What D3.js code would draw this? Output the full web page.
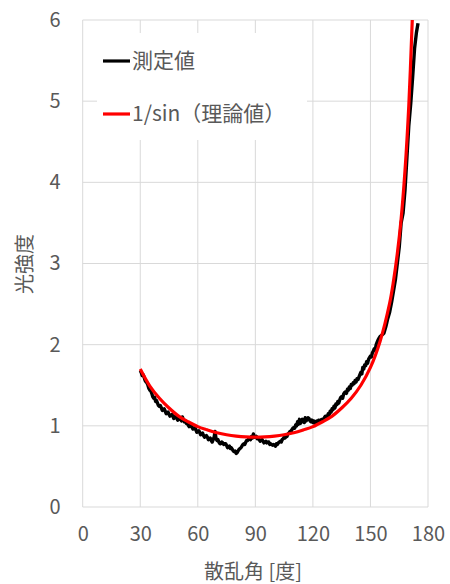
<!DOCTYPE html>
<html><head><meta charset="utf-8">
<script src="https://cdn.jsdelivr.net/npm/d3@7"></script>
<style>body{margin:0;background:#fff;} text{font-family:"Noto Sans CJK JP","Noto Sans",sans-serif;fill:#595959;}</style>
</head><body><svg id="c" width="450" height="584"></svg>
<script>
// x-axis ticks (degrees) and y-axis ticks
const xTicks = [0, 30, 60, 90, 120, 150, 180];
const yTicks = [0, 1, 2, 3, 4, 5, 6];
// measured (測定値): angle in degrees, intensity
const measAngle = [30,30.5,31,31.5,32,32.5,33,33.5,34,34.5,35,35.5,36,36.5,37,37.5,38,38.5,39,39.5,40,40.5,41,41.5,42,42.5,43,43.5,44,44.5,45,45.5,46,46.5,47,47.5,48,48.5,49,49.5,50,50.5,51,51.5,52,52.5,53,53.5,54,54.5,55,55.5,56,56.5,57,57.5,58,58.5,59,59.5,60,60.5,61,61.5,62,62.5,63,63.5,64,64.5,65,65.5,66,66.5,67,67.5,68,68.5,69,69.5,70,70.5,71,71.5,72,72.5,73,73.5,74,74.5,75,75.5,76,76.5,77,77.5,78,78.5,79,79.5,80,80.5,81,81.5,82,82.5,83,83.5,84,84.5,85,85.5,86,86.5,87,87.5,88,88.5,89,89.5,90,90.5,91,91.5,92,92.5,93,93.5,94,94.5,95,95.5,96,96.5,97,97.5,98,98.5,99,99.5,100,100.5,101,101.5,102,102.5,103,103.5,104,104.5,105,105.5,106,106.5,107,107.5,108,108.5,109,109.5,110,110.5,111,111.5,112,112.5,113,113.5,114,114.5,115,115.5,116,116.5,117,117.5,118,118.5,119,119.5,120,120.5,121,121.5,122,122.5,123,123.5,124,124.5,125,125.5,126,126.5,127,127.5,128,128.5,129,129.5,130,130.5,131,131.5,132,132.5,133,133.5,134,134.5,135,135.5,136,136.5,137,137.5,138,138.5,139,139.5,140,140.5,141,141.5,142,142.5,143,143.5,144,144.5,145,145.5,146,146.5,147,147.5,148,148.5,149,149.5,150,150.5,151,151.5,152,152.5,153,153.5,154,154.5,155,155.5,156,156.5,157,157.5,158,158.5,159,159.5,160,161,162,163,164,165,166,167,168,169,170,171,172,173,174,174.8];
const measValue = [1.68,1.66,1.62,1.63,1.60,1.56,1.54,1.53,1.50,1.46,1.44,1.43,1.40,1.36,1.34,1.35,1.30,1.31,1.28,1.25,1.24,1.25,1.22,1.19,1.20,1.21,1.18,1.15,1.16,1.17,1.14,1.12,1.13,1.14,1.12,1.09,1.10,1.12,1.10,1.07,1.08,1.10,1.09,1.06,1.11,1.07,1.05,1.06,1.03,1.04,1.01,0.99,1.00,1.01,0.98,0.96,0.97,0.98,0.95,0.92,0.93,0.94,0.92,0.89,0.90,0.91,0.88,0.86,0.87,0.88,0.86,0.83,0.84,0.85,0.82,0.80,0.83,0.86,0.93,0.84,0.82,0.83,0.80,0.78,0.78,0.80,0.79,0.77,0.78,0.78,0.76,0.73,0.74,0.75,0.72,0.73,0.71,0.69,0.68,0.69,0.66,0.67,0.69,0.71,0.72,0.73,0.75,0.77,0.78,0.77,0.80,0.82,0.82,0.84,0.84,0.83,0.87,0.85,0.90,0.86,0.86,0.87,0.84,0.85,0.83,0.81,0.82,0.83,0.81,0.79,0.80,0.81,0.79,0.80,0.80,0.77,0.78,0.77,0.76,0.77,0.76,0.75,0.78,0.77,0.79,0.80,0.81,0.80,0.83,0.84,0.86,0.85,0.88,0.87,0.90,0.91,0.93,0.92,0.95,0.97,0.98,0.97,1.01,1.00,1.05,1.02,1.08,1.03,1.05,1.08,1.07,1.04,1.10,1.06,1.08,1.10,1.09,1.06,1.05,1.07,1.04,1.06,1.03,1.05,1.06,1.04,1.07,1.05,1.06,1.08,1.08,1.07,1.10,1.12,1.12,1.11,1.15,1.14,1.18,1.17,1.21,1.20,1.24,1.22,1.27,1.26,1.30,1.28,1.32,1.35,1.36,1.34,1.39,1.41,1.42,1.40,1.45,1.44,1.48,1.46,1.51,1.50,1.53,1.52,1.56,1.54,1.58,1.57,1.60,1.63,1.66,1.64,1.72,1.70,1.75,1.74,1.79,1.77,1.82,1.84,1.86,1.85,1.90,1.92,1.95,1.94,2.00,2.03,2.06,2.08,2.10,2.11,2.12,2.13,2.14,2.18,2.22,2.27,2.32,2.36,2.40,2.52,2.66,2.80,3.00,3.20,3.50,3.62,3.90,4.30,4.70,4.97,5.30,5.65,5.85,5.96];
// theoretical (1/sin): angle in degrees, intensity
const theoAngle = [30,35,40,45,50,55,60,65,70,75,80,85,90,95,100,105,110,115,120,125,130,135,140,145,150,155,160,162,164,166,168,170,171.8];
const theoValue = [1.70,1.49,1.34,1.22,1.12,1.05,0.99,0.95,0.915,0.89,0.873,0.863,0.86,0.863,0.873,0.89,0.915,0.95,0.99,1.05,1.12,1.22,1.34,1.50,1.72,2.04,2.51,2.78,3.12,3.55,4.14,4.95,6.0];
const seriesNames = ["測定値", "1/sin（理論値）"];
const seriesColors = ["#000000", "#ff0000"];

const svg = d3.select("#c");
const L = 82.7, R = 428, T = 20, B = 507;
const x = d3.scaleLinear().domain([0, 180]).range([L, R]);
const y = d3.scaleLinear().domain([0, 6]).range([B, T]);

const grid = svg.append("g");
grid.selectAll("line.v").data(xTicks).join("line")
  .attr("x1", d => x(d)).attr("x2", d => x(d)).attr("y1", T).attr("y2", B)
  .attr("stroke", "#d9d9d9").attr("stroke-width", 1);
grid.selectAll("line.h").data(yTicks).join("line")
  .attr("y1", d => y(d)).attr("y2", d => y(d)).attr("x1", L).attr("x2", R)
  .attr("stroke", "#d9d9d9").attr("stroke-width", 1);

const xAxis = svg.append("g").attr("transform", `translate(0,${B})`)
  .call(d3.axisBottom(x).tickValues(xTicks).tickFormat(d3.format("d")).tickSize(0).tickPadding(20));
xAxis.select(".domain").remove();
xAxis.selectAll("text").attr("font-size", 20).style("fill", "#595959")
  .attr("font-family", "'Noto Sans CJK JP'");
const yAxis = svg.append("g").attr("transform", `translate(${L},0)`)
  .call(d3.axisLeft(y).tickValues(yTicks).tickFormat(d3.format("d")).tickSize(0).tickPadding(22));
yAxis.select(".domain").remove();
yAxis.selectAll("text").attr("font-size", 20).style("fill", "#595959")
  .attr("font-family", "'Noto Sans CJK JP'");

// legend box
svg.append("rect").attr("x", 97).attr("y", 33).attr("width", 210).attr("height", 107).attr("fill", "#fff");

svg.append("defs").append("clipPath").attr("id", "pc")
  .append("rect").attr("x", L).attr("y", T).attr("width", R - L).attr("height", B - T);

const meas = measAngle.map((a, i) => [a, measValue[i]]);
const theo = theoAngle.map((a, i) => [a, theoValue[i]]);

svg.append("path").datum(meas)
  .attr("d", d3.line().x(d => x(d[0])).y(d => y(d[1])))
  .attr("fill", "none").attr("stroke", seriesColors[0]).attr("stroke-width", 3.4)
  .attr("stroke-linejoin", "round").attr("clip-path", "url(#pc)");
svg.append("path").datum(theo)
  .attr("d", d3.line().curve(d3.curveCatmullRom).x(d => x(d[0])).y(d => y(d[1])))
  .attr("fill", "none").attr("stroke", seriesColors[1]).attr("stroke-width", 3.2)
  .attr("clip-path", "url(#pc)");

// legend
const lg = svg.append("g");
[61, 114].forEach((ly, i) => {
  lg.append("line").attr("x1", 103).attr("x2", 130).attr("y1", ly).attr("y2", ly)
    .attr("stroke", seriesColors[i]).attr("stroke-width", 3.2);
  lg.append("text").attr("x", 132).attr("y", ly).attr("dy", "0.35em")
    .attr("font-size", 21).text(seriesNames[i]);
});

// axis titles
svg.append("text").attr("x", 253).attr("y", 572).attr("dy", "0.35em")
  .attr("text-anchor", "middle").attr("font-size", 20).text("散乱角 [度]");
svg.append("text").attr("transform", "translate(25,264) rotate(-90)")
  .attr("dy", "0.35em").attr("text-anchor", "middle").attr("font-size", 20).text("光強度");
</script></body></html>
